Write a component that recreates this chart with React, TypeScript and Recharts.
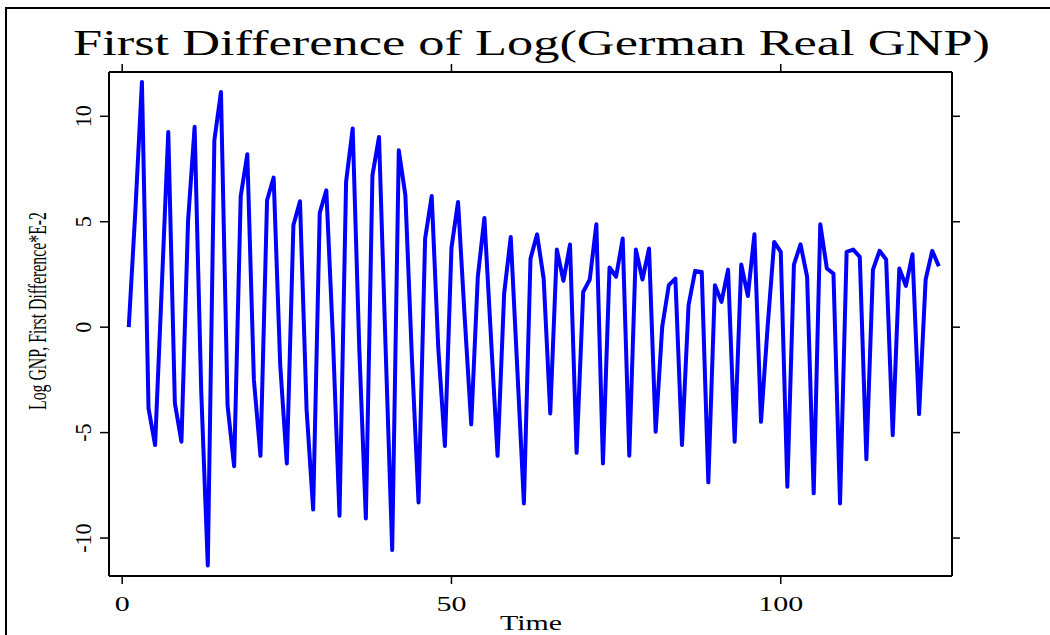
import React from "react";
import { LineChart, Line, XAxis, YAxis } from "recharts";

const timeIndex: number[] = Array.from({ length: 124 }, (_, i) => i + 1);

const gnpDiff: number[] = [
  0.0, 5.5, 11.63, -3.85, -5.59, 1.8, 9.26, -3.6, -5.43, 5.0,
  9.5, -3.0, -11.3, 8.86, 11.15, -3.7, -6.6, 6.2, 8.2, -2.5,
  -6.1, 6.02, 7.09, -1.8, -6.46, 4.83, 5.97, -3.9, -8.65, 5.42,
  6.49, -0.5, -8.94, 6.9, 9.42, -1.0, -9.07, 7.2, 9.02, -1.0,
  -10.57, 8.39, 6.26, -1.5, -8.31, 4.2, 6.22, -1.0, -5.63, 3.76,
  5.94, 0.5, -4.61, 2.39, 5.18, -0.5, -6.1, 1.6, 4.28, -2.0,
  -8.36, 3.25, 4.4, 2.3, -4.09, 3.68, 2.2, 3.92, -5.96, 1.67,
  2.26, 4.88, -6.46, 2.83, 2.39, 4.2, -6.1, 3.68, 2.26, 3.73,
  -4.96, 0.02, 1.99, 2.3, -5.59, 1.04, 2.67, 2.62, -7.36, 1.99,
  1.2, 2.73, -5.43, 2.97, 1.48, 4.41, -4.49, 0.0, 4.04, 3.57,
  -7.57, 2.97, 3.93, 2.39, -7.88, 4.88, 2.78, 2.54, -8.36, 3.57,
  3.68, 3.33, -6.26, 2.73, 3.62, 3.21, -5.12, 2.78, 1.96, 3.46,
  -4.12, 2.26, 3.62, 2.89,
];

const xTicks: number[] = [0, 50, 100];
const yTicks: number[] = [-10, -5, 0, 5, 10];

const titleText = "First Difference of Log(German Real GNP)";
const xLabel = "Time";
const yLabel = "Log GNP, First Difference*E-2";

const FONT = '"Liberation Serif", "Times New Roman", serif';

const data = timeIndex.map((t, i) => ({ t, v: gnpDiff[i] }));

const NoTick = () => <g />;

const BottomTick = (props: any) => {
  const { x, y, payload } = props;
  return (
    <g transform={`translate(${x},${y + 25}) scale(1.5,1)`}>
      <text x={0} y={0} textAnchor="middle" fontFamily={FONT} fontSize={20} fill="#000">
        {payload.value}
      </text>
    </g>
  );
};

const LeftTick = (props: any) => {
  const { x, y, payload } = props;
  return (
    <g transform={`translate(${x - 7},${y}) rotate(-90) scale(1.1,1.2)`}>
      <text x={0} y={0} textAnchor="middle" fontFamily={FONT} fontSize={20} fill="#000">
        {payload.value}
      </text>
    </g>
  );
};

export default function App() {
  const axisLine = { stroke: "#000", strokeWidth: 2 };
  const tickLine = { stroke: "#000", strokeWidth: 1.5 };
  return (
    <div style={{ position: "absolute", left: 0, top: 0, width: 1050, height: 635, background: "#fff", overflow: "hidden" }}>
      <div
        style={{
          position: "absolute",
          left: 5,
          top: 7,
          width: 1045,
          height: 628,
          borderLeft: "2px solid #000",
          borderTop: "2px solid #000",
          boxSizing: "border-box",
        }}
      />
      <div style={{ position: "absolute", left: 0, top: 0 }}>
        <LineChart width={1050} height={635} data={data} margin={{ top: 0, right: 0, bottom: 0, left: 0 }}>
          <XAxis
            xAxisId="bottom"
            dataKey="t"
            type="number"
            orientation="bottom"
            domain={[-2, 126]}
            allowDataOverflow
            ticks={xTicks}
            height={59}
            tickSize={8}
            axisLine={axisLine}
            tickLine={tickLine}
            tick={<BottomTick />}
          />
          <XAxis
            xAxisId="top"
            dataKey="t"
            type="number"
            orientation="top"
            domain={[-2, 126]}
            allowDataOverflow
            ticks={xTicks}
            height={72}
            tickSize={8}
            axisLine={axisLine}
            tickLine={tickLine}
            tick={<NoTick />}
          />
          <YAxis
            yAxisId="left"
            type="number"
            orientation="left"
            domain={[-11.8, 12.1]}
            allowDataOverflow
            ticks={yTicks}
            width={109}
            tickSize={9}
            axisLine={axisLine}
            tickLine={tickLine}
            tick={<LeftTick />}
          />
          <YAxis
            yAxisId="right"
            type="number"
            orientation="right"
            domain={[-11.8, 12.1]}
            allowDataOverflow
            ticks={yTicks}
            width={98}
            tickSize={8}
            axisLine={axisLine}
            tickLine={tickLine}
            tick={<NoTick />}
          />
          <Line
            xAxisId="bottom"
            yAxisId="left"
            dataKey="v"
            type="linear"
            stroke="#0000FF"
            strokeWidth={4}
            strokeLinejoin="round"
            dot={false}
            activeDot={false}
            isAnimationActive={false}
          />
        </LineChart>
      </div>
      <svg
        width={1050}
        height={635}
        style={{ position: "absolute", left: 0, top: 0, pointerEvents: "none" }}
      >
        <text
          x={73}
          y={55}
          fontFamily={FONT}
          fontSize={35}
          fill="#000"
          textLength={917}
          lengthAdjust="spacingAndGlyphs"
        >
          {titleText}
        </text>
        <text
          x={531}
          y={630}
          textAnchor="middle"
          fontFamily={FONT}
          fontSize={21}
          fill="#000"
          textLength={62}
          lengthAdjust="spacingAndGlyphs"
        >
          {xLabel}
        </text>
        <g transform="translate(46,311) rotate(-90)">
          <text
            x={0}
            y={0}
            textAnchor="middle"
            fontFamily={FONT}
            fontSize={26}
            fill="#000"
            textLength={198}
            lengthAdjust="spacingAndGlyphs"
          >
            {yLabel}
          </text>
        </g>
      </svg>
    </div>
  );
}
